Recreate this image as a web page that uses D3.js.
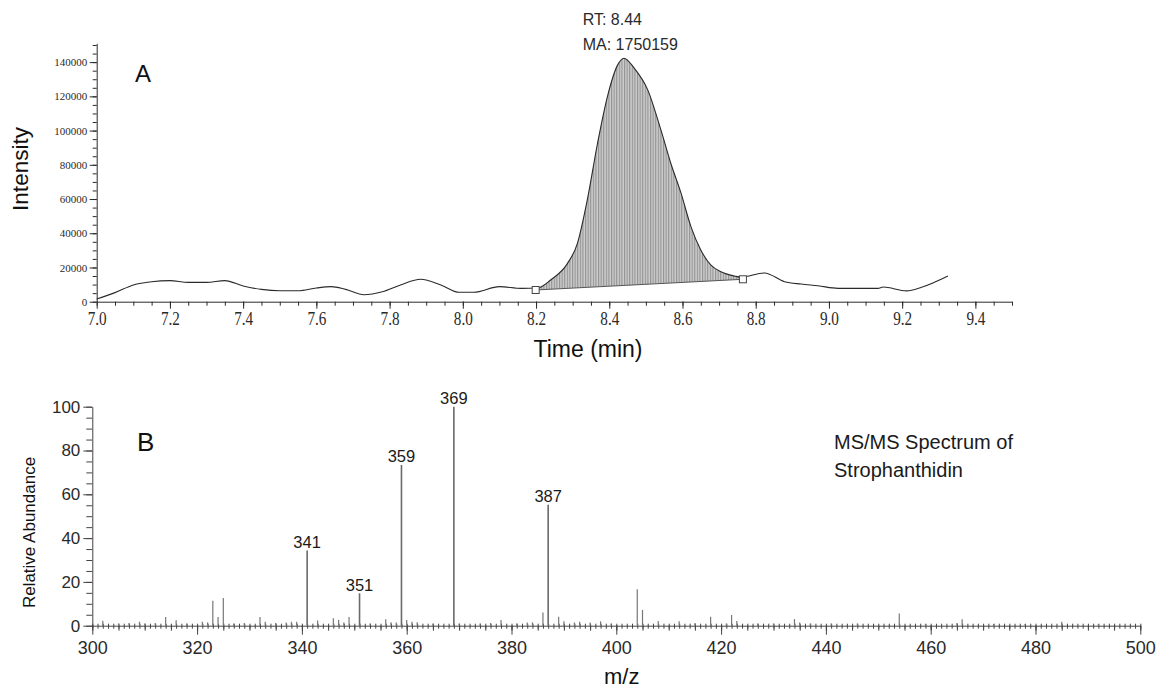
<!DOCTYPE html>
<html>
<head>
<meta charset="utf-8">
<script src="https://cdn.jsdelivr.net/npm/d3@7/dist/d3.min.js"></script>
<style>
  body { margin: 0; background: #fff; }
  svg { display: block; }
  .serif text { font-family: "Liberation Serif", "Times New Roman", serif; }
  .sans { font-family: "Liberation Sans", Arial, sans-serif; }
</style>
</head>
<body>
<svg id="chart" width="1158" height="688"></svg>
<script>
// chromatogram (panel A)
var times = [7.00, 7.05, 7.10, 7.15, 7.20, 7.25, 7.30, 7.35, 7.40, 7.45, 7.50, 7.55, 7.60, 7.64, 7.68, 7.73, 7.78, 7.83, 7.885, 7.94, 7.99, 8.03, 8.10, 8.16, 8.204,
  8.24, 8.286, 8.313, 8.34, 8.368, 8.395, 8.423, 8.44, 8.468, 8.505, 8.541, 8.568, 8.596, 8.623, 8.65, 8.677, 8.705, 8.742, 8.76,
  8.824, 8.879, 8.924, 8.97, 9.025, 9.134, 9.148, 9.212, 9.253, 9.325]
var intensity = [1600, 5300, 9800, 11700, 12300, 11300, 11300, 12300, 9200, 7200, 6400, 6400, 8000, 8800, 7200, 4100, 5800, 9800, 13100, 9800, 5500, 5500, 8800, 7800, 8000,
  12700, 22400, 34100, 59500, 92600, 119900, 138400, 142300, 136500, 123800, 100400, 80900, 63400, 43900, 30200, 21500, 17500, 15000, 14300,
  16800, 11700, 10300, 9300, 7800, 7800, 8600, 6300, 8400, 15000]
var peakRange = [8.204, 8.76]
var baseTimes = [8.199, 8.765]
var baseIntensity = [6842, 13100]
var timeTicks = [7.0, 7.2, 7.4, 7.6, 7.8, 8.0, 8.2, 8.4, 8.6, 8.8, 9.0, 9.2, 9.4]
var intensityTicks = [0, 20000, 40000, 60000, 80000, 100000, 120000, 140000]

// MS/MS spectrum (panel B)
var mzMajor = [341, 351, 359, 369, 387]
var abMajor = [34.3, 14.8, 73.4, 100, 55.2]
var mzMinor = [302, 305, 307, 309, 310, 312, 314, 316, 318, 321, 322, 323, 324, 325, 327, 329, 332, 333, 335, 337, 338, 339,
  343, 346, 347, 348, 349, 353, 356, 357, 358, 360, 361, 362, 365, 370, 374, 376, 378, 381, 383, 384, 386, 389, 390, 392, 393,
  395, 397, 399, 404, 405, 408, 412, 415, 418, 421, 422, 423, 427, 430, 434, 435, 437, 441, 446, 454, 459, 465, 466, 472, 478, 485, 492]
var abMinor = [2.3, 1.0, 1.2, 1.8, 1.0, 1.2, 4.0, 2.5, 1.0, 1.8, 1.5, 11.4, 4.0, 12.6, 1.0, 1.2, 4.0, 1.8, 1.2, 1.5, 1.8, 1.8,
  2.4, 3.4, 2.6, 1.5, 4.0, 1.0, 2.9, 1.6, 1.5, 2.6, 1.8, 1.6, 1.0, 1.0, 1.0, 1.2, 2.6, 1.0, 1.5, 1.5, 6.0, 4.1, 2.0, 1.5, 1.8,
  1.5, 2.0, 1.0, 16.7, 7.2, 2.2, 2.0, 1.2, 4.1, 1.0, 4.9, 2.2, 1.0, 1.0, 3.0, 1.5, 1.0, 1.0, 1.0, 5.6, 0.8, 1.2, 2.9, 0.8, 0.8, 1.8, 0.8]
var mzTicks = [300, 320, 340, 360, 380, 400, 420, 440, 460, 480, 500]
var abTicks = [0, 20, 40, 60, 80, 100]

var svg = d3.select("#chart")
var ink = "#2a2a2a"

// hatch for the integrated peak
var pat = svg.append("defs").append("pattern")
  .attr("id", "hatch")
  .attr("patternUnits", "userSpaceOnUse")
  .attr("width", 2.6)
  .attr("height", 4)
pat.append("rect").attr("width", 2.6).attr("height", 4).attr("fill", "#cdcdcd")
pat.append("line").attr("x1", 0.6).attr("x2", 0.6).attr("y1", 0).attr("y2", 4)
  .attr("stroke", "#8a8a8a").attr("stroke-width", 1)

// ---------- panel A ----------
var xA = d3.scaleLinear().domain([7.0, 9.5]).range([96.7, 1012])
var yA = d3.scaleLinear().domain([0, 151000]).range([301.7, 43.3])

var gA = svg.append("g")

// minor ticks first
gA.append("g")
  .attr("transform", "translate(0," + yA(0) + ")")
  .call(d3.axisBottom(xA).tickValues(d3.range(7.0, 9.501, 0.05)).tickSize(4).tickFormat(""))
  .call(function(g) { g.select(".domain").remove() })
gA.append("g")
  .attr("transform", "translate(" + xA(7.0) + ",0)")
  .call(d3.axisLeft(yA).tickValues(d3.range(0, 150001, 5000)).tickSize(4).tickFormat(""))
  .call(function(g) { g.select(".domain").remove() })

var axA = gA.append("g")
  .attr("class", "serif")
  .attr("transform", "translate(0," + yA(0) + ")")
  .call(d3.axisBottom(xA).tickValues(timeTicks).tickSize(7).tickPadding(3).tickFormat(d3.format(".1f")).tickSizeOuter(0))
axA.selectAll("text").attr("font-size", 19).attr("transform", "scale(0.8,1)")

var ayA = gA.append("g")
  .attr("class", "serif")
  .attr("transform", "translate(" + xA(7.0) + ",0)")
  .call(d3.axisLeft(yA).tickValues(intensityTicks).tickSize(7).tickPadding(2.5).tickFormat(d3.format("d")).tickSizeOuter(0))
ayA.selectAll("text").attr("font-size", 11)

gA.selectAll(".domain, .tick line").attr("stroke", ink)
gA.selectAll(".tick text").attr("fill", ink)

// integrated area between trace and baseline
var peakPts = times.map(function(t, i) { return [t, intensity[i]] })
  .filter(function(d) { return d[0] >= peakRange[0] && d[0] <= peakRange[1] })
var baseAt = d3.scaleLinear().domain(baseTimes).range(baseIntensity)

gA.append("path")
  .datum(peakPts)
  .attr("fill", "url(#hatch)")
  .attr("d", d3.area()
    .x(function(d) { return xA(d[0]) })
    .y0(function(d) { return yA(baseAt(d[0])) })
    .y1(function(d) { return yA(d[1]) })
    .curve(d3.curveMonotoneX))

gA.append("line")
  .attr("x1", xA(baseTimes[0])).attr("y1", yA(baseIntensity[0]))
  .attr("x2", xA(baseTimes[1])).attr("y2", yA(baseIntensity[1]))
  .attr("stroke", "#555").attr("stroke-width", 1)

gA.append("path")
  .datum(times.map(function(t, i) { return [t, intensity[i]] }))
  .attr("fill", "none")
  .attr("stroke", ink)
  .attr("stroke-width", 1.1)
  .attr("d", d3.line()
    .x(function(d) { return xA(d[0]) })
    .y(function(d) { return yA(d[1]) })
    .curve(d3.curveMonotoneX))

gA.selectAll(".mark")
  .data(baseTimes)
  .enter()
  .append("rect")
  .attr("x", function(d) { return xA(d) - 3.5 })
  .attr("y", function(d, i) { return yA(baseIntensity[i]) - 3.5 })
  .attr("width", 7).attr("height", 7)
  .attr("fill", "#fff").attr("stroke", "#444").attr("stroke-width", 1)

gA.append("text").attr("class", "sans").attr("x", 582.7).attr("y", 25)
  .attr("font-size", 16).attr("fill", ink).text("RT: 8.44")
gA.append("text").attr("class", "sans").attr("x", 582.7).attr("y", 50)
  .attr("font-size", 16).attr("fill", ink).text("MA: 1750159")
gA.append("text").attr("class", "sans").attr("x", 135).attr("y", 81.7)
  .attr("font-size", 24).attr("fill", "#111").text("A")
gA.append("text").attr("class", "sans")
  .attr("transform", "translate(27.8,169) rotate(-90)")
  .attr("text-anchor", "middle").attr("font-size", 22.5).attr("fill", "#111").text("Intensity")
gA.append("text").attr("class", "sans").attr("x", 588).attr("y", 356.7)
  .attr("text-anchor", "middle").attr("font-size", 23).attr("fill", "#111").text("Time (min)")

// ---------- panel B ----------
var xB = d3.scaleLinear().domain([300, 500]).range([92.3, 1140.3])
var yB = d3.scaleLinear().domain([0, 100]).range([625.7, 406.7])

var gB = svg.append("g").attr("class", "sans")

gB.append("g")
  .attr("transform", "translate(0," + yB(0) + ")")
  .call(d3.axisBottom(xB).tickValues(d3.range(300, 501, 1)).tickSize(3).tickFormat(""))
  .call(function(g) { g.select(".domain").remove() })
  .selectAll(".tick line").attr("y1", -2).attr("stroke", "#666")
gB.append("g")
  .attr("transform", "translate(0," + yB(0) + ")")
  .call(d3.axisBottom(xB).tickValues(d3.range(300, 501, 5)).tickSize(5).tickFormat(""))
  .call(function(g) { g.select(".domain").remove() })
gB.append("g")
  .attr("transform", "translate(" + xB(300) + ",0)")
  .call(d3.axisLeft(yB).tickValues(d3.range(0, 101, 5)).tickSize(6).tickFormat(""))
  .call(function(g) { g.select(".domain").remove() })

var axB = gB.append("g")
  .attr("transform", "translate(0," + yB(0) + ")")
  .call(d3.axisBottom(xB).tickValues(mzTicks).tickSize(9).tickPadding(7).tickSizeOuter(0))
axB.selectAll("text").attr("font-size", 18)
var ayB = gB.append("g")
  .attr("transform", "translate(" + xB(300) + ",0)")
  .call(d3.axisLeft(yB).tickValues(abTicks).tickSize(9).tickPadding(3).tickSizeOuter(0))
ayB.selectAll("text").attr("font-size", 17)

gB.selectAll(".domain, .tick line").attr("stroke", "#444")
gB.selectAll(".tick text").attr("fill", ink).attr("font-family", "Liberation Sans, Arial, sans-serif")

// noise level peaks
gB.selectAll(".minor")
  .data(mzMinor)
  .enter()
  .append("line")
  .attr("x1", function(d) { return xB(d) })
  .attr("x2", function(d) { return xB(d) })
  .attr("y1", yB(0))
  .attr("y2", function(d, i) { return yB(abMinor[i]) })
  .attr("stroke", "#777").attr("stroke-width", 1.2)

// labelled fragment ions
gB.selectAll(".major")
  .data(mzMajor)
  .enter()
  .append("line")
  .attr("x1", function(d) { return xB(d) })
  .attr("x2", function(d) { return xB(d) })
  .attr("y1", yB(0))
  .attr("y2", function(d, i) { return yB(abMajor[i]) })
  .attr("stroke", "#6a6a6a").attr("stroke-width", 1.6)

gB.selectAll(".plabel")
  .data(mzMajor)
  .enter()
  .append("text")
  .attr("x", function(d) { return xB(d) })
  .attr("y", function(d, i) { return yB(abMajor[i]) - 2.5 })
  .attr("text-anchor", "middle")
  .attr("font-size", 16.5)
  .attr("fill", "#1a1a1a")
  .text(function(d) { return d })

gB.append("text").attr("x", 137).attr("y", 451)
  .attr("font-size", 26).attr("fill", "#111").text("B")
gB.append("text").attr("x", 834).attr("y", 449)
  .attr("font-size", 20).attr("fill", "#1a1a1a").text("MS/MS Spectrum of")
gB.append("text").attr("x", 834).attr("y", 476.7)
  .attr("font-size", 20).attr("fill", "#1a1a1a").text("Strophanthidin")
gB.append("text")
  .attr("transform", "translate(35,532.5) rotate(-90)")
  .attr("text-anchor", "middle").attr("font-size", 17).attr("fill", "#111").text("Relative Abundance")
gB.append("text").attr("x", 621.7).attr("y", 684)
  .attr("text-anchor", "middle").attr("font-size", 22).attr("fill", "#111").text("m/z")
</script>
</body>
</html>
